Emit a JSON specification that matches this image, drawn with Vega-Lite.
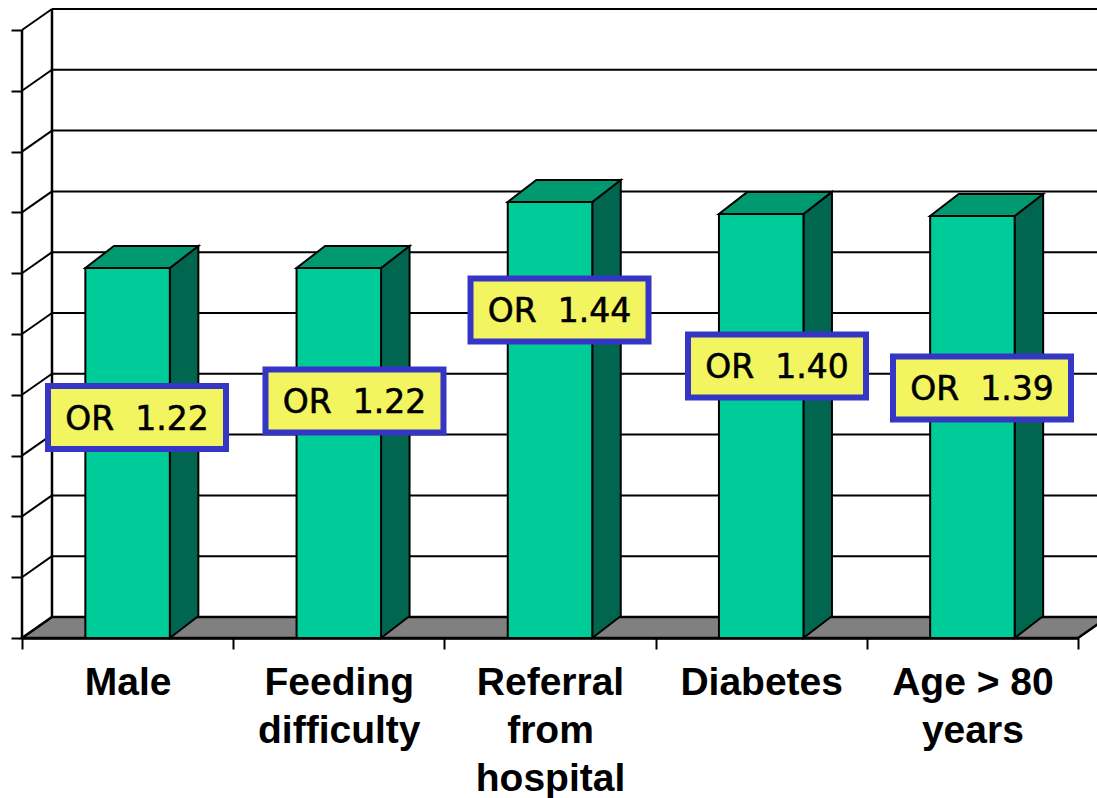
{
"$schema":"https://vega.github.io/schema/vega-lite/v6.json",
"width":1097,"height":798,"autosize":{"type":"none"},"padding":0,"background":"white",
"config":{"view":{"stroke":null}},
"datasets":{
"bars":[
{"category":"Male","value":1.217,"or":"OR \u00a01.22","label_x":0.5445,"label_y":0.7253},
{"category":"Feeding difficulty","value":1.217,"or":"OR \u00a01.22","label_x":1.5743,"label_y":0.7796},
{"category":"Referral from hospital","value":1.434,"or":"OR \u00a01.44","label_x":2.545,"label_y":1.0789},
{"category":"Diabetes","value":1.395,"or":"OR \u00a01.40","label_x":3.5748,"label_y":0.8947},
{"category":"Age > 80 years","value":1.388,"or":"OR \u00a01.39","label_x":4.5455,"label_y":0.8224}
],
"levels":[{"level":0},{"level":0.2},{"level":0.4},{"level":0.6},{"level":0.8},{"level":1},{"level":1.2},{"level":1.4},{"level":1.6},{"level":1.8},{"level":2}],
"floor":[{"d":0},{"d":1}]
},
"resolve":{"scale":{"x":"independent"}},
"layer":[
{"layer":[
{"data":{"name":"floor"},
 "transform":[{"calculate":"datum.d*0.142","as":"x1"},{"calculate":"5+datum.d*0.142","as":"x2"},{"calculate":"datum.d*0.0691","as":"y1"}],
 "mark":{"type":"area","orient":"horizontal","fill":"#808080","stroke":"black","strokeWidth":2.5,"clip":true},
 "encoding":{"y":{"field":"y1","type":"quantitative","stack":null,"scale":{"domain":[0,2],"range":[638,30]},"axis":{"values":[0,0.2,0.4,0.6,0.8,1,1.2,1.4,1.6,1.8,2],"labels":false,"domain":false,"grid":false,"tickSize":11,"tickWidth":2,"tickColor":"black","title":null,"offset":-22}},
  "x":{"field":"x1","type":"quantitative","scale":{"domain":[0,5],"range":[22,1078]},"axis":null},
  "x2":{"field":"x2"}}},
{"data":{"name":"levels"},
 "transform":[{"calculate":"datum.level+0.0691","as":"back"}],
 "mark":{"type":"rule","stroke":"black","strokeWidth":2,"clip":true},
 "encoding":{"x":{"datum":0.142,"type":"quantitative"},"x2":{"datum":5.3},"y":{"field":"back","type":"quantitative"}}},
{"data":{"name":"levels"},
 "transform":[{"calculate":"datum.level+0.0691","as":"back"}],
 "mark":{"type":"rule","stroke":"black","strokeWidth":2},
 "encoding":{"x":{"datum":0,"type":"quantitative"},"x2":{"datum":0.142},"y":{"field":"level","type":"quantitative"},"y2":{"field":"back"}}},
{"data":{"values":[{"x":0,"low":0,"high":2},{"x":0.142,"low":0.0691,"high":2.0691}]},
 "mark":{"type":"rule","stroke":"black","strokeWidth":2.5},
 "encoding":{"x":{"field":"x","type":"quantitative"},"y":{"field":"low","type":"quantitative"},"y2":{"field":"high"}}},
{"data":{"name":"bars"},
 "transform":[{"window":[{"op":"row_number","as":"slot"}]},{"calculate":"[0,1]","as":"t"},{"flatten":["t"]},
  {"calculate":"datum.slot-0.5+0.2+datum.t*0.135","as":"xs"},{"calculate":"datum.t*0.0724","as":"ys"},{"calculate":"datum.value+datum.t*0.0724","as":"ye"}],
 "mark":{"type":"area","orient":"vertical","fill":"#006650","stroke":"black","strokeWidth":2},
 "encoding":{"x":{"field":"xs","type":"quantitative"},"y":{"field":"ys","type":"quantitative","stack":null},"y2":{"field":"ye"},"detail":{"field":"category"}}},
{"data":{"name":"bars"},
 "transform":[{"window":[{"op":"row_number","as":"slot"}]},{"calculate":"[0,1]","as":"t"},{"flatten":["t"]},
  {"calculate":"datum.slot-0.5-0.2+datum.t*0.135","as":"xa"},{"calculate":"datum.slot-0.5+0.2+datum.t*0.135","as":"xb"},{"calculate":"datum.value+datum.t*0.0724","as":"yt"}],
 "mark":{"type":"area","orient":"horizontal","fill":"#009970","stroke":"black","strokeWidth":2},
 "encoding":{"y":{"field":"yt","type":"quantitative","stack":null},"x":{"field":"xa","type":"quantitative"},"x2":{"field":"xb"},"detail":{"field":"category"}}}
]},
{"data":{"name":"bars"},
 "mark":{"type":"bar","size":84.5,"fill":"#00CC99","stroke":"black","strokeWidth":2},
 "encoding":{
  "x":{"field":"category","type":"nominal","sort":null,"scale":{"type":"band","range":[22,1078],"paddingInner":0,"paddingOuter":0},
   "axis":{"orient":"bottom","offset":-160,"title":null,"tickBand":"extent","tickSize":11,"tickWidth":2,"tickColor":"black","domainColor":"black","domainWidth":2.5,"labelAngle":0,"labelFont":"Liberation Sans","labelFontWeight":"bold","labelFontSize":39,"labelColor":"black","labelLineHeight":48,"labelPadding":14,"labelLimit":0,"labelOverlap":false,"labelBound":false,"labelFlush":false,"labelBaseline":"top",
    "labelExpr":"datum.label=='Feeding difficulty'?['Feeding','difficulty']:datum.label=='Referral from hospital'?['Referral','from','hospital']:datum.label=='Age > 80 years'?['Age > 80','years']:datum.label"}},
  "y":{"field":"value","type":"quantitative"},"y2":{"datum":0}}},
{"data":{"name":"bars"},
 "layer":[
 {"transform":[{"calculate":"datum.label_x-0.4214","as":"x1"},{"calculate":"datum.label_x+0.4214","as":"x2"},{"calculate":"datum.label_y-0.1036","as":"y1"},{"calculate":"datum.label_y+0.1036","as":"y2"}],
  "mark":{"type":"rect","fill":"#F2F55F","stroke":"#3636C6","strokeWidth":6},
  "encoding":{"x":{"field":"x1","type":"quantitative","scale":{"domain":[0,5],"range":[22,1078]},"axis":null},"x2":{"field":"x2"},"y":{"field":"y1","type":"quantitative"},"y2":{"field":"y2"}}},
 {"mark":{"type":"text","font":"DejaVu Sans","fontSize":33,"fill":"black","stroke":"black","strokeWidth":0.6,"align":"center","baseline":"middle","dy":2},
  "encoding":{"x":{"field":"label_x","type":"quantitative"},"y":{"field":"label_y","type":"quantitative"},"text":{"field":"or"}}}
 ]}
]}
